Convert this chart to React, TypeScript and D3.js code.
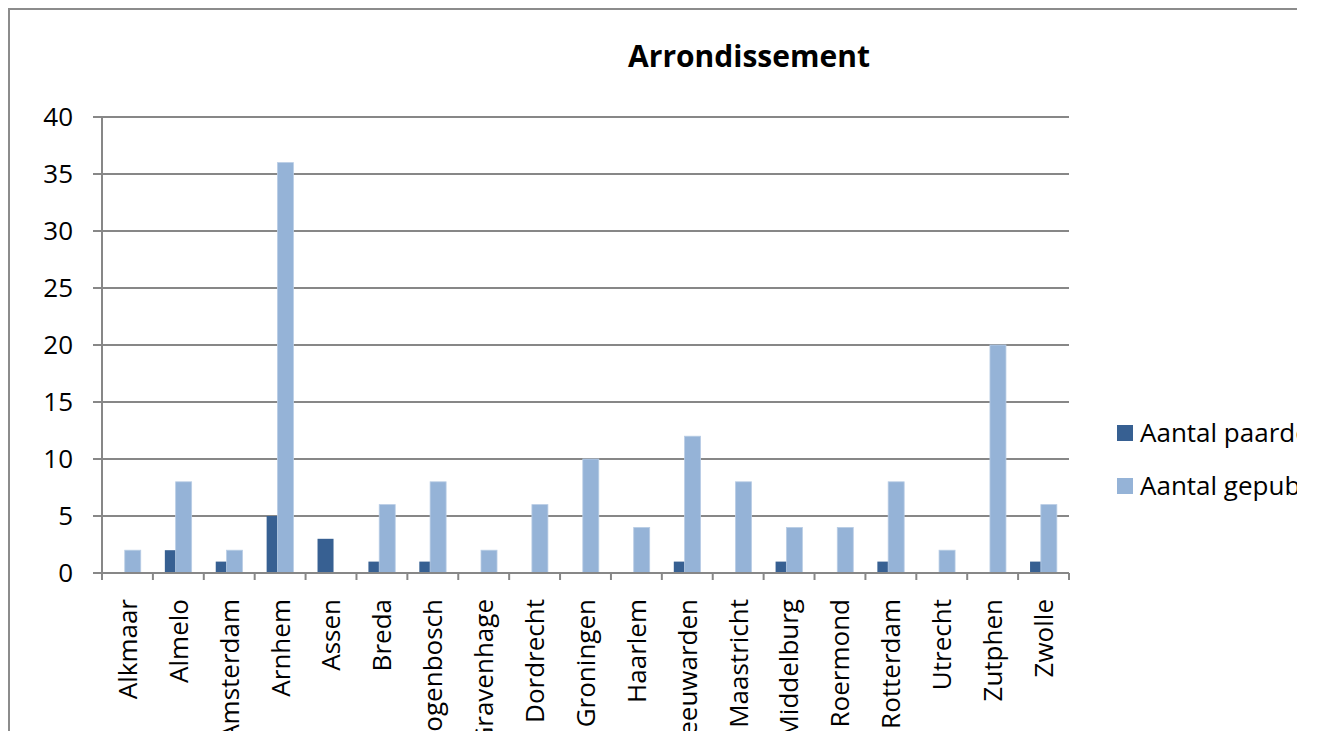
import React from 'react';
import * as d3 from 'd3';

// overall size
const svgWidth = 1317;
const svgHeight = 731;
const clipRight = 1297; // chart frame is cut off here in the picture

// plot area
const plotLeft = 102;
const plotRight = 1069;
const plotTop = 117;
const plotBottom = 573;

const barWidth = 16;
const darkColor = '#376092';
const lightColor = '#95b3d7';
const gridColor = '#878787';
const fontFamily = '"Open Sans", "Liberation Sans", sans-serif';

const categories = [
  'Alkmaar', 'Almelo', 'Amsterdam', 'Arnhem', 'Assen', 'Breda',
  "'s-Hertogenbosch", "'s-Gravenhage", 'Dordrecht', 'Groningen', 'Haarlem',
  'Leeuwarden', 'Maastricht', 'Middelburg', 'Roermond', 'Rotterdam',
  'Utrecht', 'Zutphen', 'Zwolle',
];
const seriesNames = ['Aantal paardenfokkers', 'Aantal gepubliceerde advertenties'];
const darkValues = [0, 2, 1, 5, 3, 1, 1, 0, 0, 0, 0, 1, 0, 1, 0, 1, 0, 0, 1];
const lightValues = [2, 8, 2, 36, 0, 6, 8, 2, 6, 10, 4, 12, 8, 4, 4, 8, 2, 20, 6];
const yTicks = [0, 5, 10, 15, 20, 25, 30, 35, 40];

const xScale = d3.scaleBand<string>()
  .domain(categories)
  .range([plotLeft, plotRight]);

const yScale = d3.scaleLinear()
  .domain([0, 40])
  .range([plotBottom, plotTop]);

export default function App() {
  const bw = xScale.bandwidth();
  return (
    <div style={{ position: 'absolute', left: 0, top: 0 }}>
      <svg width={svgWidth} height={svgHeight} style={{ display: 'block', fontFamily }}>
        <defs>
          <clipPath id="frameClip">
            <rect x={0} y={0} width={clipRight} height={svgHeight} />
          </clipPath>
        </defs>
        <rect width={svgWidth} height={svgHeight} fill="#fff" />
        <g clipPath="url(#frameClip)">
          {/* chart frame */}
          <rect x={9} y={9} width={1400} height={800} fill="none" stroke="#8c8c8c" strokeWidth={2} />

          <text x={749} y={67} textAnchor="middle" fontSize={30} fontWeight="bold" fill="#000">
            Arrondissement
          </text>

          {/* gridlines + y ticks */}
          {yTicks.map(t => (
            <g key={t}>
              <line x1={plotLeft - 9} x2={plotRight} y1={yScale(t)} y2={yScale(t)} stroke={gridColor} strokeWidth={2} />
              <text x={73} y={yScale(t)} dy="0.36em" textAnchor="end" fontSize={26} fill="#000">{t}</text>
            </g>
          ))}

          {/* y axis */}
          <line x1={plotLeft} x2={plotLeft} y1={plotTop} y2={plotBottom + 7} stroke={gridColor} strokeWidth={2} />

          {/* bars */}
          {categories.map((c, i) => {
            const cx = (xScale(c) as number) + bw / 2;
            return (
              <g key={c}>
                {darkValues[i] > 0 && (
                  <rect x={cx - 13.5} y={yScale(darkValues[i])} width={barWidth}
                    height={plotBottom - yScale(darkValues[i])} fill={darkColor} />
                )}
                {lightValues[i] > 0 && (
                  <rect x={cx - 2.7} y={yScale(lightValues[i])} width={barWidth}
                    height={plotBottom - yScale(lightValues[i])} fill={lightColor}
                    stroke="#b9cde5" strokeWidth={0.8} />
                )}
              </g>
            );
          })}

          {/* x axis */}
          <line x1={plotLeft} x2={plotRight} y1={plotBottom} y2={plotBottom} stroke={gridColor} strokeWidth={2} />
          {categories.map(c => (
            <line key={'t' + c} x1={xScale(c) as number} x2={xScale(c) as number}
              y1={plotBottom} y2={plotBottom + 7} stroke={gridColor} strokeWidth={2} />
          ))}
          <line x1={plotRight} x2={plotRight} y1={plotBottom} y2={plotBottom + 7} stroke={gridColor} strokeWidth={2} />

          {/* category labels */}
          {categories.map(c => {
            const cx = (xScale(c) as number) + bw / 2;
            return (
              <text key={'l' + c} transform={`translate(${cx},${599}) rotate(-90)`}
                dy="0.36em" textAnchor="end" fontSize={26} fill="#000">{c}</text>
            );
          })}

          {/* legend */}
          {seriesNames.map((s, i) => (
            <g key={s} transform={`translate(1117,${425 + i * 53})`}>
              <rect width={16} height={16} fill={i === 0 ? darkColor : lightColor} />
              <text x={23} y={8} dy="0.36em" fontSize={26} fill="#000">{s}</text>
            </g>
          ))}
        </g>
      </svg>
    </div>
  );
}
